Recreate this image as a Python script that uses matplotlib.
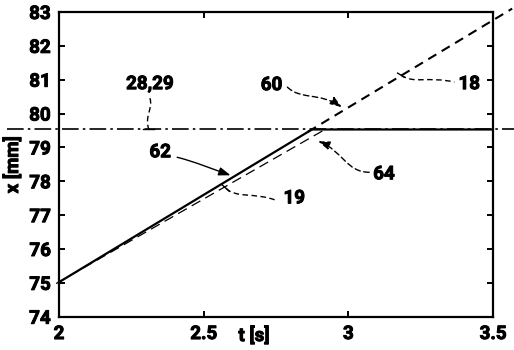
import matplotlib
matplotlib.use("Agg")
import matplotlib.pyplot as plt
import matplotlib.patheffects as pe
from matplotlib.path import Path
from matplotlib.patches import PathPatch, FancyArrowPatch

plt.rcParams["font.family"] = ["Roboto", "DejaVu Sans"]
plt.rcParams["font.weight"] = "bold"
FS = 13.5
BOLD = [pe.withStroke(linewidth=0.7, foreground="black")]

# ── data ──────────────────────────────────────────────────────────────────────
x_ticks = [2, 2.5, 3, 3.5]
x_ticklabels = ["2", "2.5", "3", "3.5"]
y_ticks = [74, 75, 76, 77, 78, 79, 80, 81, 82, 83]

target_x = 79.53                      # 28,29 (dash-dot)
target_t = [1.82, 3.77]

actual_t = [2.0, 2.874, 3.5]          # 62 / 64 (solid)
actual_x = [75.02, 79.53, 79.53]

extrap_t = [2.86, 3.566]              # 18 (thick dashed)
extrap_x = [79.46, 83.10]

model_t = [1.99, 2.919]               # 19 (thin dashed)
model_x = [74.98, 79.53]

# ── figure ────────────────────────────────────────────────────────────────────
fig = plt.figure(figsize=(5.14, 3.5), dpi=100)
ax = fig.add_axes([0.1148, 0.0951, 0.8445, 0.8706])
ax.set_xlim(2, 3.5)
ax.set_ylim(74, 83)


def px(x, y):
    """pixel (from top-left of image) -> data coords"""
    return 2 + (x - 59) / 254.7, 83 - (y - 12) / 33.8


ax.plot(target_t, [target_x, target_x], color="black", lw=1.2,
        dashes=(10, 2.5, 1.5, 2.5), clip_on=False)
ax.plot(actual_t, actual_x, color="black", lw=1.6, solid_capstyle="butt")
ax.plot(extrap_t, extrap_x, color="black", lw=1.5, dashes=(4.5, 3), clip_on=False)
ax.plot(model_t, model_x, color="black", lw=0.9, dashes=(8, 4.5), clip_on=False)

for s in ax.spines.values():
    s.set_linewidth(1.6)

ax.set_xticks(x_ticks)
ax.set_xticklabels(x_ticklabels)
ax.set_yticks(y_ticks)
ax.tick_params(axis="both", direction="in", length=4, width=1.4,
               labelsize=FS, pad=6)
ax.tick_params(axis="x", top=True)
ax.tick_params(axis="y", right=True)
for lab in ax.get_xticklabels() + ax.get_yticklabels():
    lab.set_fontweight("bold")
    lab.set_path_effects(BOLD)

fig.text(254 / 514, 1 - 336 / 350, "t [s]", ha="center", va="center",
         fontsize=FS, fontweight="bold", path_effects=BOLD)
fig.text(13 / 514, 1 - 165 / 350, "x [mm]", ha="center", va="center",
         rotation=90, fontsize=FS, fontweight="bold", path_effects=BOLD)

# ── reference numerals ───────────────────────────────────────────────────────
labels = [("28,29", 139, 84), ("60", 246, 85), ("18", 420, 84),
          ("62", 148, 152), ("64", 345, 174), ("19", 266, 198)]
for txt, x, y in labels:
    ax.text(*px(x, y), txt, ha="center", va="center", fontsize=FS,
            fontweight="bold", clip_on=False, path_effects=BOLD)

DASH = (0, (4, 2.5))


def bez(pts):
    verts = [px(*p) for p in pts]
    codes = [Path.MOVETO] + [Path.CURVE4] * (len(verts) - 1)
    return Path(verts, codes)


def curve(pts):
    ax.add_patch(PathPatch(bez(pts), fc="none", ec="black", lw=1.0,
                           ls=DASH, clip_on=False))


# 28,29 leader
curve([(139, 98), (142, 108), (134, 116), (138, 129)])
ax.plot(*zip(px(133, 129), px(143, 129)), color="black", lw=1.0)
# 18 leader
curve([(360, 75), (370, 84), (385, 76), (407, 82)])
ax.plot(*zip(px(357, 73), px(363, 77)), color="black", lw=1.0)
# 19 leader
curve([(206, 188), (214, 198), (232, 192), (250, 200)])
ax.plot(*zip(px(202, 184), px(209, 191)), color="black", lw=1.0)

# arrow leaders (S-shaped)
arrows = [
    ([(260, 87), (272, 100), (288, 92), (308, 107)], DASH),
    ([(163, 157), (180, 162), (192, 168), (210, 175)], "-"),
    ([(332, 172), (312, 172), (308, 150), (287, 141)], DASH),
]
for pts, ls in arrows:
    ax.add_patch(FancyArrowPatch(path=bez(pts),
                                 arrowstyle="-|>,head_length=7,head_width=2.5",
                                 color="black", lw=1.0, ls=ls,
                                 mutation_scale=1.0, clip_on=False,
                                 shrinkA=0, shrinkB=0))

fig.savefig("out.png", dpi=100)
